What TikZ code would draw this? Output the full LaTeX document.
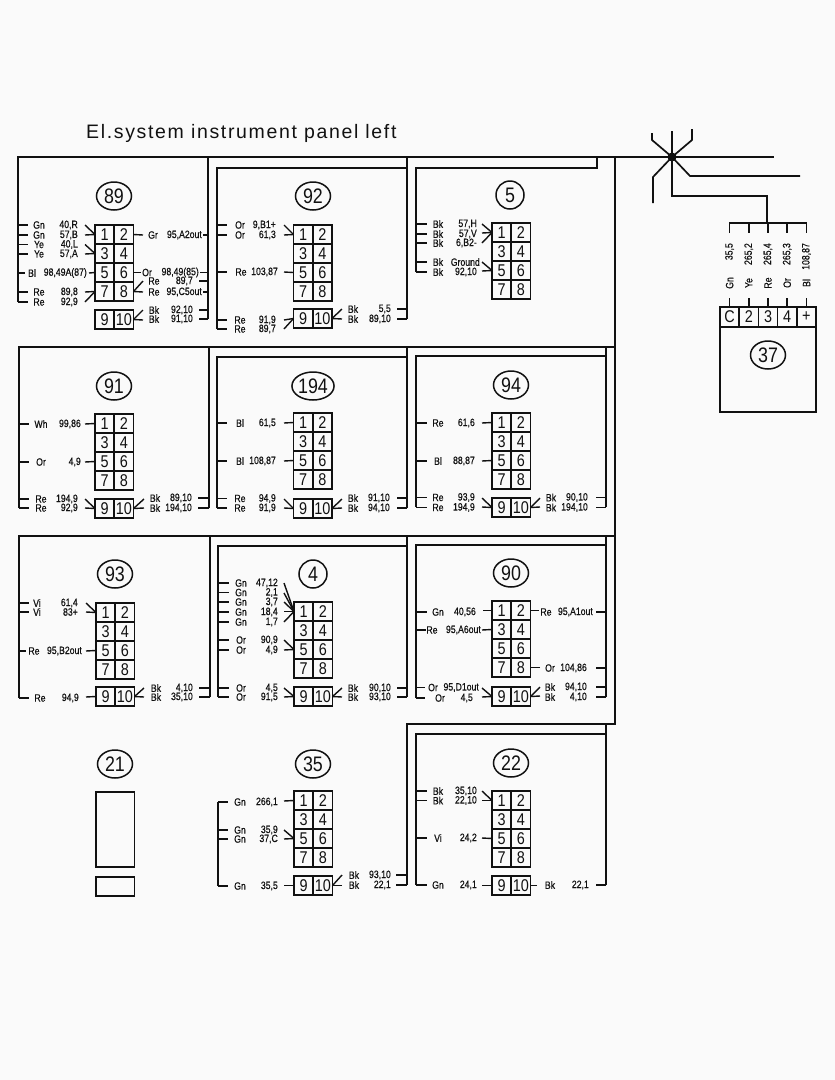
\documentclass[tikz,border=0pt]{standalone}
\usepackage{fontspec}
\setmainfont{Liberation Sans}
\newfontfamily\wirefont[FakeStretch=0.82,FakeBold=0.5]{Liberation Sans}
\newfontfamily\pinfont[FakeStretch=0.85]{Liberation Sans}
\newfontfamily\titlefont[LetterSpace=8.5]{Liberation Sans}
\usetikzlibrary{shapes.geometric}
\definecolor{paper}{HTML}{FAFAFA}
\definecolor{ink}{HTML}{111111}
\tikzset{
  bus/.style={draw=ink,line width=1.7,line cap=square,line join=miter},
  stub/.style={draw=ink,line width=1.5},
  lead/.style={draw=ink,line width=1.4},
  pincell/.style={draw=ink,line width=1.6,anchor=north west,minimum width=19.25,outer sep=0,
    minimum height=19,inner sep=0,text=ink,font=\pinfont\fontsize{17}{17}\selectfont},
  devtag/.style={ellipse,draw=ink,line width=1.5,minimum width=35,minimum height=28,
    inner sep=0,text=ink,font=\pinfont\fontsize{21}{21}\selectfont},
  wirecol/.style={inner sep=0,text=ink,font=\wirefont\fontsize{10.6}{10.6}\selectfont},
  wirenum/.style={wirecol,anchor=east},
}
% a connector block: tag, left x, top y
\newcommand{\pinblock}[3]{%
  \foreach \p [count=\r from 0] in {1,3,5,7} {
    \pgfmathtruncatemacro\q{\p+1}
    \node[pincell] (b#1-\p) at (#2,#3+\r*19) {\p};
    \node[pincell] (b#1-\q) at (#2+19.25,#3+\r*19) {\q};
  }}
% the lower pair: tag, left x, top y
\newcommand{\pinpair}[3]{%
  \node[pincell] (b#1-9) at (#2,#3) {9};
  \node[pincell] (b#1-10) at (#2+19.25,#3) {10};}
% wires at a bus: tag, bus x, stub end, colour x, number end, rows
\newcommand{\siderows}[6]{%
  \foreach \y/\c/\n [count=\i] in {#6} {
    \coordinate (#1w\i) at (#2,\y);
    \node[wirecol] (#1c\i) at (#4,\y) {\c};
    \node[wirenum] (#1n\i) at (#5,\y) {\n};
    \draw[stub] (#1w\i) -- (#3,\y);
  }}
% leads into a pin: node, side, start x, start ys
\newcommand{\leadin}[4]{%
  \foreach \y in {#4} {
    \coordinate (t) at (#3,\y);
    \draw[lead] (t) -- (#1.#2);
  }}
\begin{document}
\begin{tikzpicture}[x=1pt,y=-1pt]
  \fill[paper] (0,0) rectangle (835,1080);
  \useasboundingbox (0,0) rectangle (835,1080);
  \node[anchor=west,inner sep=0,text=ink,font=\titlefont\fontsize{19.5}{19.5}\selectfont] (title) at (86,133) {El.system instrument panel left};
  % main harness and the star
  \coordinate (hub) at (672,157);
  \draw[bus] (18,302) -- (18,157) -- (hub) -- (774,157);
  \fill[ink] (hub) circle (4.5);
  \draw[bus] (hub) -- (672,131);
  \draw[bus] (hub) -- (652,140) -- (652,133);
  \draw[bus] (hub) -- (692,140) -- (692,129);
  \draw[bus] (hub) -- (653,177) -- (653,203);
  \draw[bus] (hub) -- (690,176) -- (800,176);
  \draw[bus] (hub) -- (672,196) -- (767,196) -- (767,223);
  \draw[bus] (615,157) -- (615,724) -- (407,724) -- (407,885);
  % first row of frames
  \draw[bus] (208,157) -- (208,319);
  \draw[bus] (217,329) -- (217,168) -- (407,168);
  \draw[bus] (407,157) -- (407,319);
  \draw[bus] (416,272) -- (416,168) -- (597,168) -- (597,157);
  % second row
  \draw[bus] (19,508) -- (19,347) -- (615,347);
  \draw[bus] (209,347) -- (209,508);
  \draw[bus] (217,508) -- (217,357) -- (407,357);
  \draw[bus] (407,347) -- (407,508);
  \draw[bus] (416,507) -- (416,356) -- (606,356);
  \draw[bus] (606,347) -- (606,507);
  % third row
  \draw[bus] (19,698) -- (19,536) -- (615,536);
  \draw[bus] (210,536) -- (210,697);
  \draw[bus] (218,697) -- (218,546) -- (407,546);
  \draw[bus] (407,536) -- (407,697);
  \draw[bus] (416,698) -- (416,545) -- (606,545);
  \draw[bus] (606,536) -- (606,697);
  % fourth row
  \draw[bus] (218,802) -- (218,886);
  \draw[bus] (416,885) -- (416,734) -- (606,734);
  \draw[bus] (606,724) -- (606,885);

  % 89
  \node[devtag] (d89) at (114,196) {89};
  \pinblock{89}{95}{225}
  \pinpair{89}{95}{310}
  \siderows{a}{18}{28}{39}{78}{225/Gn/{40,R},235/Gn/{57,B},244.5/Ye/{40,L},254/Ye/{57,A},292/Re/{89,8},302/Re/{92,9}}
  \siderows{b}{18}{25}{32}{87}{273/Bl/{98,49A(87)}}
  \siderows{c}{208}{203}{153}{202}{235/Gr/{95,A2out}}
  \siderows{d}{208}{200}{147}{199}{272.5/Or/{98,49(85)}}
  \siderows{e}{208}{199}{154}{193}{281/Re/{89,7},310/Bk/{92,10},319/Bk/{91,10}}
  \siderows{f}{208}{203}{154}{202}{292/Re/{95,C5out}}
  \leadin{b89-1}{west}{85}{225,235}
  \leadin{b89-3}{west}{85}{244.5,254}
  \leadin{b89-5}{west}{89}{273}
  \leadin{b89-7}{west}{85}{292,302}
  \leadin{b89-2}{east}{143}{235}
  \leadin{b89-6}{east}{141}{272.5}
  \leadin{b89-8}{east}{143}{281,292}
  \leadin{b89-10}{east}{143}{310,320}

  % 92
  \node[devtag] (d92) at (313,196) {92};
  \pinblock{92}{293.5}{225}
  \pinpair{92}{293.5}{309}
  \siderows{a}{217}{227}{240}{276}{225/Or/{9,B1+},235/Or/{61,3},320/Re/{91,9},329/Re/{89,7}}
  \siderows{b}{217}{227}{241}{278}{272/Re/{103,87}}
  \siderows{c}{407}{397}{353}{391}{309/Bk/{5,5},319/Bk/{89,10}}
  \leadin{b92-1}{west}{284}{225,235}
  \leadin{b92-5}{west}{284}{272}
  \leadin{b92-9}{west}{284}{320,329}
  \leadin{b92-10}{east}{342}{309,319}

  % 5
  \node[devtag,minimum width=28] (d5) at (510,195) {5};
  \pinblock{5}{492}{223}
  \siderows{a}{416}{427}{438}{477}{224/Bk/{57,H},234/Bk/{57,V},243/Bk/{6,B2-},272/Bk/{92,10}}
  \siderows{b}{416}{427}{438}{480}{262/Bk/{Ground}}
  \leadin{b5-1}{west}{482}{224,233,243}
  \leadin{b5-5}{west}{482}{262,271}

  % 91
  \node[devtag] (d91) at (114,386) {91};
  \pinblock{91}{95}{414}
  \pinpair{91}{95}{499}
  \siderows{a}{19}{29}{41}{81}{424/Wh/{99,86},462/Or/{4,9}}
  \siderows{b}{19}{29}{41}{78}{499/Re/{194,9},508/Re/{92,9}}
  \siderows{c}{209}{198}{155}{192}{498/Bk/{89,10},508/Bk/{194,10}}
  \leadin{b91-1}{west}{85}{424}
  \leadin{b91-5}{west}{85}{462}
  \leadin{b91-9}{west}{85}{499,508}
  \leadin{b91-10}{east}{144}{499,508}

  % 194
  \node[devtag,minimum width=42] (d194) at (313,386) {194};
  \pinblock{194}{293.5}{413}
  \pinpair{194}{293.5}{499}
  \siderows{a}{217}{227}{240}{276}{423/Bl/{61,5},461/Bl/{108,87},498.5/Re/{94,9},508/Re/{91,9}}
  \siderows{b}{407}{397}{353}{390}{498/Bk/{91,10},508/Bk/{94,10}}
  \leadin{b194-1}{west}{284}{423}
  \leadin{b194-5}{west}{284}{461}
  \leadin{b194-9}{west}{284}{499,508}
  \leadin{b194-10}{east}{342}{499,508}

  % 94
  \node[devtag] (d94) at (511,385) {94};
  \pinblock{94}{492}{413}
  \pinpair{94}{492}{498}
  \siderows{a}{416}{427}{438}{475}{423/Re/{61,6},461/Bl/{88,87},497.5/Re/{93,9},507.5/Re/{194,9}}
  \siderows{b}{606}{596}{551}{588}{497.5/Bk/{90,10},507.5/Bk/{194,10}}
  \leadin{b94-1}{west}{482}{423}
  \leadin{b94-5}{west}{482}{461}
  \leadin{b94-9}{west}{482}{498,507}
  \leadin{b94-10}{east}{540}{498,507}

  % 93
  \node[devtag] (d93) at (115,574) {93};
  \pinblock{93}{96}{603}
  \pinpair{93}{96}{687}
  \siderows{a}{19}{29}{37}{78}{603/Vi/{61,4},612/Vi/{83+}}
  \siderows{b}{19}{26}{34}{82}{651/Re/{95,B2out}}
  \siderows{c}{19}{29}{40}{79}{698/Re/{94,9}}
  \siderows{d}{210}{199}{156}{193}{688/Bk/{4,10},697/Bk/{35,10}}
  \leadin{b93-1}{west}{86}{603,612}
  \leadin{b93-5}{west}{86}{651}
  \leadin{b93-9}{west}{86}{697}
  \leadin{b93-10}{east}{144}{688,697}

  % 4
  \node[devtag,minimum width=28] (d4) at (313,574) {4};
  \pinblock{4}{294}{602}
  \pinpair{4}{294}{687}
  \siderows{a}{218}{229}{241}{278}{583/Gn/{47,12},592.5/Gn/{2,1},602/Gn/{3,7},612/Gn/{18,4},622/Gn/{1,7},640/Or/{90,9},650/Or/{4,9},688/Or/{4,5},697/Or/{91,5}}
  \siderows{b}{407}{397}{353}{391}{688/Bk/{90,10},697/Bk/{93,10}}
  \leadin{b4-1}{west}{284}{583,593,602,611.5,622}
  \leadin{b4-5}{west}{284}{640,650}
  \leadin{b4-9}{west}{284}{688,697}
  \leadin{b4-10}{east}{342}{688,697}

  % 90
  \node[devtag] (d90) at (511,573) {90};
  \pinblock{90}{492}{601}
  \pinpair{90}{492}{687}
  \siderows{a}{416}{427}{438}{476}{612/Gn/{40,56}}
  \siderows{b}{416}{426}{432}{481}{630/Re/{95,A6out}}
  \siderows{c}{416}{425}{433}{479}{687.5/Or/{95,D1out}}
  \siderows{d}{416}{425}{440}{473}{698/Or/{4,5}}
  \siderows{e}{606}{596}{546}{593}{612/Re/{95,A1out}}
  \siderows{f}{606}{596}{550}{587}{668/Or/{104,86},687/Bk/{94,10},697/Bk/{4,10}}
  \leadin{b90-1}{west}{483}{610.5}
  \leadin{b90-3}{west}{482}{630}
  \leadin{b90-9}{west}{482}{688,697}
  \leadin{b90-2}{east}{539}{610.5}
  \leadin{b90-8}{east}{540}{667.5}
  \leadin{b90-10}{east}{540}{687,696}

  % 21
  \node[devtag] (d21) at (115,764) {21};
  \node[draw=ink,line width=1.6,outer sep=0,anchor=north west,minimum width=38.5,minimum height=75,inner sep=0] (b21a) at (96,792) {};
  \node[draw=ink,line width=1.6,outer sep=0,anchor=north west,minimum width=38.5,minimum height=19,inner sep=0] (b21b) at (96,877) {};

  % 35
  \node[devtag] (d35) at (313,764) {35};
  \pinblock{35}{294}{791}
  \pinpair{35}{294}{876}
  \siderows{a}{218}{228}{240}{278}{802/Gn/{266,1},830/Gn/{35,9},839/Gn/{37,C},886/Gn/{35,5}}
  \siderows{b}{407}{396}{354}{391}{875/Bk/{93,10},885/Bk/{22,1}}
  \leadin{b35-1}{west}{284}{801}
  \leadin{b35-5}{west}{284}{830,839}
  \leadin{b35-9}{west}{284}{885.5}
  \leadin{b35-10}{east}{342}{875,885.5}

  % 22
  \node[devtag] (d22) at (511,763) {22};
  \pinblock{22}{492}{791}
  \pinpair{22}{492}{876}
  \siderows{a}{416}{427}{438}{477}{791/Bk/{35,10},800.5/Bk/{22,10},838/Vi/{24,2},885/Gn/{24,1}}
  \siderows{b}{606}{596}{550}{589}{885/Bk/{22,1}}
  \leadin{b22-1}{west}{482}{791,800.5}
  \leadin{b22-5}{west}{482}{838}
  \leadin{b22-9}{west}{482}{885.5}
  \leadin{b22-10}{east}{537}{885.5}

  % 37 on the right
  \node[draw=ink,line width=1.6,outer sep=0,anchor=north west,minimum width=96,minimum height=105,inner sep=0] (body37) at (720,307) {};
  \node[devtag] (d37) at (768,355) {37};
  \draw[bus] (729.6,233) -- (729.6,223) -- (806.4,223) -- (806.4,233);
  \foreach \t/\c/\n [count=\i] in {C/Gn/{35,5},2/Ye/{265,2},3/Re/{265,4},4/Or/{265,3},+/Bl/{108,87}} {
    \node[pincell,minimum height=20] (p\i) at (720+\i*19.2-19.2,307) {\t};
    \node[wirecol,rotate=90] (pc\i) at (720+\i*19.2-9.6,283) {\c};
    \node[wirenum,rotate=90] (pn\i) at (720+\i*19.2-9.6,243) {\n};
    \coordinate (ps\i) at (720+\i*19.2-9.6,223);
    \draw[stub] (ps\i) -- ++(0,10);
    \draw[stub] (p\i.north) -- ++(0,-9);
  }
\end{tikzpicture}
\end{document}
